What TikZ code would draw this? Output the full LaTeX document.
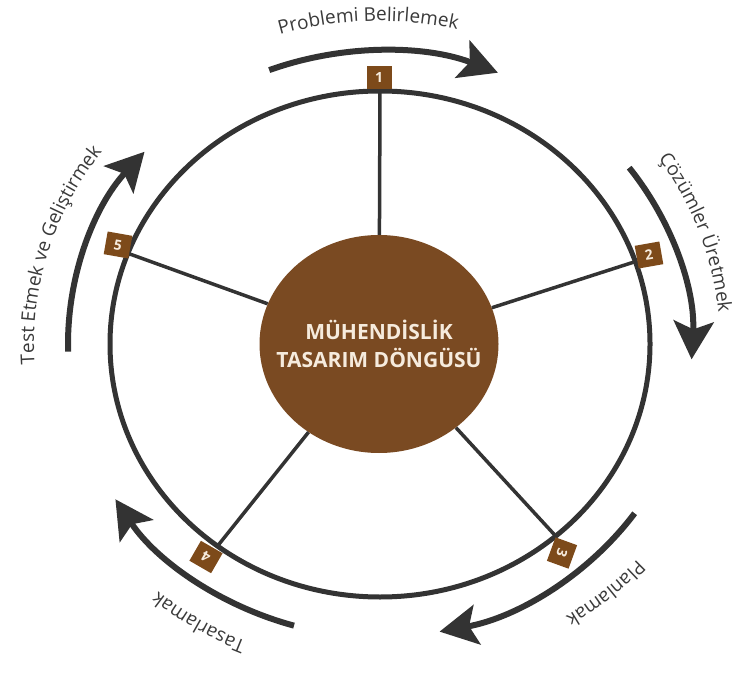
\documentclass[tikz,border=0pt]{standalone}
\usepackage{fontspec}
\setmainfont{Open Sans}
\usetikzlibrary{arrows.meta,decorations.text,calc,shapes.geometric}
\definecolor{ringc}{HTML}{333333}
\definecolor{brownc}{HTML}{7A4A22}
\definecolor{boxc}{HTML}{7D4A1A}
\definecolor{cream}{HTML}{F6EBDD}
\definecolor{labelc}{HTML}{3A3A3A}
\begin{document}
\begin{tikzpicture}[x=1pt,y=1pt,
  ring/.style={draw=ringc, line width=5pt},
  spoke/.style={draw=ringc, line width=3.5pt},
  numbox/.style={fill=boxc, minimum width=25pt, minimum height=23pt, inner sep=0pt, text=cream, font=\bfseries\fontsize{14}{14}\selectfont},
  cyclearrow/.style={draw=ringc, line width=6pt, -{Stealth[length=38pt,width=40pt,inset=8pt]}},
  lbl/.style={decorate, decoration={text along path, text align=center, text color=labelc, text={|\fontsize{19}{19}\selectfont|#1}}}
]
\useasboundingbox (0,0) rectangle (735,675);
\coordinate (C) at (380,331);
% hub
\node[ellipse, fill=brownc, minimum width=239pt, minimum height=218pt, inner sep=0pt] (hub) at (379,331) {};
\node[text=cream, align=center, font=\bfseries\fontsize{21}{28.5}\selectfont] (hubtext) at (hub.center)
      {MÜHENDİSLİK\\TASARIM DÖNGÜSÜ};
% junctions on the ring
\coordinate (J1) at ($(C)+(90:270pt and 253pt)$);
\coordinate (J2) at ($(C)+(19:270pt and 253pt)$);
\coordinate (J3) at ($(C)+(-49.4:270pt and 253pt)$);
\coordinate (J4) at ($(C)+(-127:270pt and 253pt)$);
\coordinate (J5) at ($(C)+(159:270pt and 253pt)$);
\foreach \j in {J1,J2,J3,J4,J5} \draw[spoke] (hub) -- (\j);
% ring
\draw[ring] (C) ellipse [x radius=270pt, y radius=253pt];
% number boxes
\node[numbox] (b1) at (379,597) {1};
\node[numbox, rotate=10] (b2) at (649,420) {2};
\node[numbox, rotate=-110] (b3) at (562,122) {3};
\node[numbox, rotate=150] (b4) at (206,118) {4};
\node[numbox, rotate=-10] (b5) at (118,430) {5};
% arrows
\draw[cyclearrow] ($(C)+(110.8:312pt and 293pt)$) arc[start angle=110.8, end angle=67.8, x radius=312pt, y radius=293pt];
\draw[cyclearrow] ($(C)+(37:312pt and 293pt)$) arc[start angle=37, end angle=-3, x radius=312pt, y radius=293pt];
\draw[cyclearrow] ($(C)+(-35.3:312pt and 293pt)$) arc[start angle=-35.3, end angle=-79, x radius=312pt, y radius=293pt];
\draw[cyclearrow] ($(C)+(-106:312pt and 293pt)$) arc[start angle=-106, end angle=-148, x radius=312pt, y radius=293pt];
\draw[cyclearrow] ($(C)+(181.5:312pt and 293pt)$) arc[start angle=181.5, end angle=139, x radius=312pt, y radius=293pt];
% labels
\path[lbl={Problemi Belirlemek}] ($(C)+(132:346pt and 323pt)$) arc[start angle=132, end angle=52, x radius=346pt, y radius=323pt];
\path[lbl={Çözümler Üretmek}] ($(C)+(60:340pt and 323pt)$) arc[start angle=60, end angle=-20, x radius=340pt, y radius=323pt];
\path[lbl={Planlamak}] ($(C)+(-9:346pt and 323pt)$) arc[start angle=-9, end angle=-89, x radius=346pt, y radius=323pt];
\path[lbl={Tasarlamak}] ($(C)+(-82:346pt and 323pt)$) arc[start angle=-82, end angle=-162, x radius=346pt, y radius=323pt];
\path[lbl={Test Etmek ve Geliştirmek}] ($(C)+(214:346pt and 323pt)$) arc[start angle=214, end angle=114, x radius=346pt, y radius=323pt];
\end{tikzpicture}
\end{document}
